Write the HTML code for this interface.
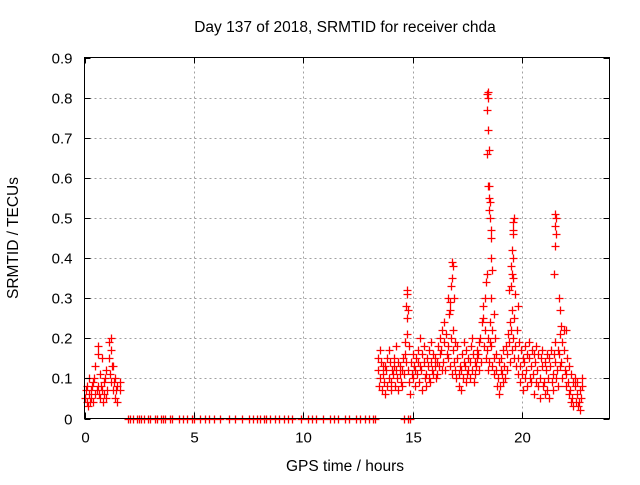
<!DOCTYPE html>
<html><head><meta charset="utf-8"><style>
body{margin:0;background:#fff}
svg text{font-family:"Liberation Sans",sans-serif;font-size:15.5px;fill:#000}
svg text.tick{font-size:15px}
</style></head><body>
<svg id="chart" width="640" height="480" xmlns="http://www.w3.org/2000/svg">
<text x="345" y="32" text-anchor="middle">Day 137 of 2018, SRMTID for receiver chda</text>
<text transform="translate(18,238) rotate(-90)" text-anchor="middle">SRMTID / TECUs</text>
<text x="345" y="471" text-anchor="middle">GPS time / hours</text>
<g id="grid"></g>
<g id="marks"></g>
<rect x="84.5" y="57.5" width="525" height="361" fill="none" stroke="#000" stroke-width="1"/>
<g id="ticks"></g>
</svg>
<script>
const xTicks=[0,5,10,15,20];
const yTicks=[0,0.1,0.2,0.3,0.4,0.5,0.6,0.7,0.8,0.9];
const yTickLabels=["0","0.1","0.2","0.3","0.4","0.5","0.6","0.7","0.8","0.9"];
const earlyT=[0.0,0.1,0.1,0.2,0.2,0.3,0.3,0.4,0.4,0.5,0.5,0.6,0.6,0.6,0.7,0.7,0.8,0.8,0.9,0.9,1.0,1.0,1.1,1.1,1.2,1.2,1.2,1.3,1.3,1.4,1.4,1.5,1.5,1.6,1.6,0.15,0.35,0.45,0.55,0.75,0.85,0.95,1.05,1.15,1.25,1.35,1.45,0.05,0.25,0.65];
const earlyV=[0.05,0.04,0.08,0.06,0.1,0.05,0.07,0.09,0.04,0.06,0.13,0.16,0.18,0.08,0.05,0.11,0.07,0.15,0.06,0.09,0.05,0.12,0.19,0.15,0.2,0.09,0.17,0.13,0.07,0.1,0.05,0.08,0.04,0.09,0.07,0.03,0.08,0.1,0.07,0.08,0.04,0.1,0.07,0.11,0.13,0.09,0.07,0.07,0.04,0.06];
const zeroT=[2.0,2.1,2.2,2.4,2.5,2.6,2.7,2.9,3.0,3.2,3.3,3.5,3.6,3.7,3.9,4.0,4.3,4.5,4.7,4.9,5.0,5.3,5.5,5.7,5.9,6.2,6.6,6.9,7.2,7.5,7.7,7.9,8.0,8.2,8.3,8.5,8.7,8.9,9.1,9.3,9.5,9.9,10.2,10.4,10.6,10.9,11.2,11.4,11.6,11.9,12.1,12.4,12.6,12.8,13.0,13.2,13.3,14.6,14.8,14.9];
const mainT=[13.4,13.5,13.6,13.7,13.8,13.9,14.0,14.1,14.2,14.3,14.4,14.5,14.6,14.7,14.8,14.9,15.0,15.1,15.2,15.3,15.4,15.5,15.6,15.7,15.8,15.9,16.0,16.1,16.2,16.3,16.4,16.5,16.6,16.7,16.8,16.9,17.0,17.1,17.2,17.3,17.4,17.5,17.6,17.7,17.8,17.9,18.0,18.1,18.2,18.3,18.4,18.5,18.6,18.7,18.8,18.9,19.0,19.1,19.2,19.3,19.4,19.5,19.6,19.7,19.8,19.9,20.0,20.1,20.2,20.3,20.4,20.5,20.6,20.7,20.8,20.9,21.0,21.1,21.2,21.3,21.4,21.5,21.6,21.7,21.8,21.9,22.0,22.1,22.2,22.3,22.4,22.5,22.6,22.7];
const mainA=[.12,.10,.07,.09,.12,.10,.07,.11,.08,.10,.13,.08,.11,.14,.12,.06,.10,.08,.11,.09,.12,.14,.11,.13,.09,.12,.15,.11,.13,.17,.14,.12,.15,.13,.11,.14,.10,.08,.12,.10,.13,.11,.14,.12,.09,.13,.16,.20,.25,.22,.17,.14,.18,.15,.12,.10,.08,.11,.13,.16,.19,.22,.20,.18,.15,.13,.11,.14,.12,.15,.13,.11,.14,.12,.10,.13,.09,.12,.10,.13,.11,.14,.12,.16,.14,.17,.11,.09,.07,.05,.08,.06,.04,.05];
const mainB=[.08,.14,.11,.13,.08,.14,.12,.15,.12,.14,.09,.15,.16,.21,.18,.11,.13,.15,.17,.13,.16,.10,.15,.17,.14,.16,.10,.18,.16,.22,.19,.16,.26,.20,.17,.19,.15,.13,.16,.14,.17,.15,.18,.16,.14,.17,.12,.24,.18,.15,.12,.19,.13,.20,.08,.14,.12,.09,.18,.21,.24,.17,.15,.22,.19,.17,.15,.18,.16,.10,.17,.16,.09,.16,.15,.08,.14,.07,.15,.09,.16,.10,.17,.21,.19,.12,.15,.13,.11,.09,.04,.03,.07,.08];
const mainC=[.15,.17,.13,.06,.15,.17,.09,.13,.18,.07,.11,.12,.19,.25,.09,.14,.16,.12,.14,.20,.07,.18,.08,.10,.19,.11,.13,.14,.20,.12,.24,.21,.18,.29,.22,.12,.18,.11,.07,.19,.09,.12,.10,.20,.11,.15,.19,.14,.28,.30,.20,.24,.22,.11,.16,.06,.15,.17,.10,.12,.14,.27,.25,.13,.11,.09,.07,.10,.08,.19,.09,.06,.18,.08,.05,.17,.06,.16,.05,.17,.07,.19,.08,.13,.10,.22,.08,.06,.04,.03,.10,.09,.02,.10];
const peakT=[14.75,14.75,14.7,14.8,16.8,16.85,16.8,16.75,16.9,16.7,16.6,18.4,18.45,18.45,18.4,18.45,18.4,18.5,18.45,18.5,18.5,18.55,18.5,18.55,18.6,18.6,18.6,18.4,18.35,18.65,18.6,18.7,19.6,19.65,19.6,19.6,19.55,19.6,19.5,19.55,19.6,19.5,19.7,19.4,19.8,21.5,21.55,21.5,21.55,21.5,21.45,21.7,21.7,21.75,21.8,22.0];
const peakV=[.32,.31,.28,.27,.39,.38,.35,.33,.30,.27,.30,.81,.815,.80,.77,.72,.66,.67,.58,.58,.55,.54,.52,.50,.47,.45,.40,.36,.34,.37,.30,.26,.49,.50,.47,.46,.42,.40,.38,.36,.35,.33,.31,.32,.28,.51,.50,.48,.46,.43,.36,.30,.30,.27,.23,.22];

const NS="http://www.w3.org/2000/svg";
const X0=84.5,X1=609.5,Y0=418.5,Y1=57.5;
const sx=t=>X0+t/24*(X1-X0);
const sy=v=>Y0-v/0.9*(Y0-Y1);
const grid=document.getElementById('grid'),ticks=document.getElementById('ticks'),marks=document.getElementById('marks');
function line(p,x1,y1,x2,y2,st,dash){const l=document.createElementNS(NS,'line');l.setAttribute('x1',x1);l.setAttribute('y1',y1);l.setAttribute('x2',x2);l.setAttribute('y2',y2);l.setAttribute('stroke',st);if(dash)l.setAttribute('stroke-dasharray',dash);p.appendChild(l);return l;}
function text(p,x,y,s,a){const t=document.createElementNS(NS,'text');t.setAttribute('x',x);t.setAttribute('y',y);t.setAttribute('text-anchor',a);t.setAttribute('class','tick');t.textContent=s;p.appendChild(t);return t;}
xTicks.forEach((t,i)=>{const x=Math.round(sx(t))+0.5;
 if(t>0){const g=line(grid,x,Y0,x,Y1,'#a0a0a0','2,3');}
 line(ticks,x,Y0,x,Y0-6,'#000');line(ticks,x,Y1,x,Y1+6,'#000');
 const lb=text(ticks,x,Y0+24,String(t),'middle');
 
 });
yTicks.forEach((v,i)=>{const y=Math.round(sy(v))+0.5;
 if(v>0&&v<0.9){const g=line(grid,X0,y,X1,y,'#a0a0a0','2,3');}
 line(ticks,X0,y,X0+6,y,'#000');line(ticks,X1,y,X1-6,y,'#000');
 const lb=text(ticks,X0-12,y+5,yTickLabels[i],'end');
 
 });
let d='';
function plus(t,v){const x=Math.round(sx(t))+0.5,y=Math.round(sy(v))+0.5;d+=`M${x-4} ${y}h8M${x} ${y-4}v8`;}
earlyT.forEach((t,i)=>plus(t,earlyV[i]));
zeroT.forEach(t=>plus(t,0));
mainT.forEach((t,i)=>{plus(t,mainA[i]);plus(t+0.05,mainB[i]);plus(t+0.03,mainC[i]);});
peakT.forEach((t,i)=>plus(t,peakV[i]));
const p=document.createElementNS(NS,'path');p.setAttribute('d',d);p.setAttribute('stroke','#ff0000');p.setAttribute('stroke-width','1.3');p.setAttribute('fill','none');


marks.appendChild(p);
</script>
</body></html>
